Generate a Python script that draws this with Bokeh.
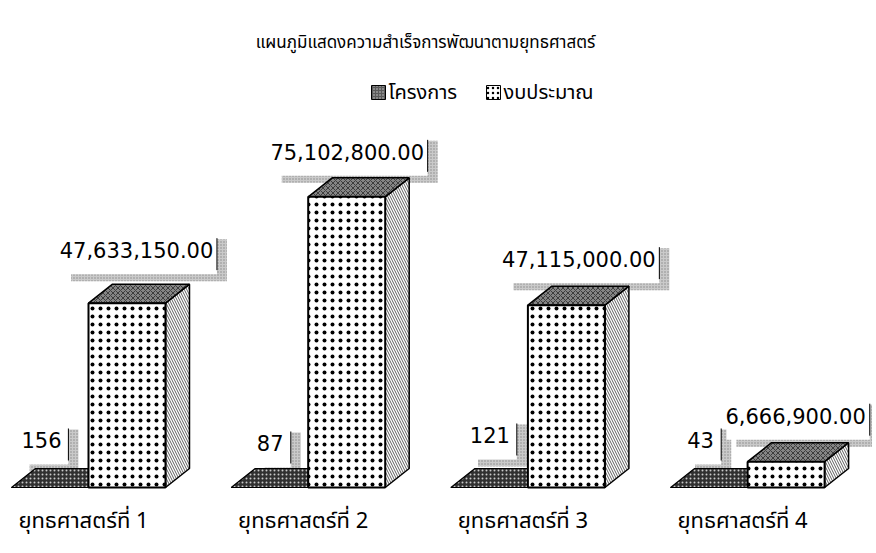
from bokeh.plotting import figure
from bokeh.models import Range1d
from bokeh.core.properties import value
from bokeh.embed import file_html
from bokeh.resources import INLINE

# ---------------- data ----------------
title_text = "แผนภูมิแสดงความสำเร็จการพัฒนาตามยุทธศาสตร์"
categories = ["ยุทธศาสตร์ที่ 1", "ยุทธศาสตร์ที่ 2", "ยุทธศาสตร์ที่ 3", "ยุทธศาสตร์ที่ 4"]
series_names = ["โครงการ", "งบประมาณ"]
projects = [156, 87, 121, 43]
budget = [47633150.00, 75102800.00, 47115000.00, 6666900.00]

# ---------------- layout (pixels) ----------------
W, H = 872, 548
OFF = 0
X0, STEP = 88.0, 219.7          # px of first group centre, group spacing
BASE, PX_PER_UNIT = 487.0, 3.87e-6
x_start = (OFF - X0) / STEP
x_end = (OFF + W - X0) / STEP
y_top = (BASE - OFF) / PX_PER_UNIT
y_bot = -(OFF + H - BASE) / PX_PER_UNIT
UX = 1.0 / STEP
UY = 1.0 / PX_PER_UNIT


def X(px):
    return x_start + (px - OFF) / W * (x_end - x_start)


def Y(py):
    return y_top - (py - OFF) / H * (y_top - y_bot)


BAR_W = 77 * UX
DX = 24 * UX
DY = 19 * UY

# label nudges in px relative to (group centre, bar top)
budget_lbl_dx = [48, 39, 51, 48]
budget_lbl_dy = [-53, -45, -46, -46]
proj_lbl_dx = [-47, -38, -38, -47]
proj_lbl_dy = [-47, -44, -52, -47]

NUM_SIZE = 21
NUM_FONT = value("DejaVu Sans")
THAI_FONT = value("Tahoma, 'Noto Sans Thai', 'Noto Sans Thai UI', 'Noto Sans', 'DejaVu Sans', sans-serif")

p = figure(width=W, height=H, output_backend="svg", toolbar_location=None,
           x_range=Range1d(x_start, x_end), y_range=Range1d(y_bot, y_top),
           min_border=0, outline_line_color=None)
p.axis.visible = False
p.grid.visible = False
p.background_fill_color = "white"
p.border_fill_color = "white"


def fmt(v):
    return f"{v:,.2f}"


def text_w(s):
    w = 0.0
    for c in s:
        w += 0.30 if c in ",." else 0.60
    return w * NUM_SIZE


# ---------- label geometry ----------
labels = []
for i, v in enumerate(budget):
    s = fmt(v)
    cx = X0 + i * STEP + budget_lbl_dx[i]
    cy = BASE - v * PX_PER_UNIT + budget_lbl_dy[i]
    labels.append((s, cx, cy))
for i, v in enumerate(projects):
    s = f"{v}"
    cx = X0 + i * STEP + proj_lbl_dx[i]
    cy = BASE - v * PX_PER_UNIT + proj_lbl_dy[i]
    labels.append((s, cx, cy))

PAD_L, PAD_R = 3, 8
SH_X, SH_Y, BOX_H, BOX_DY = 10, 7, 42, 3
box_l = [c[1] - text_w(c[0]) / 2 - PAD_L for c in labels]
box_r = [c[1] + text_w(c[0]) / 2 + PAD_R for c in labels]
box_cx = [(a + b) / 2 for a, b in zip(box_l, box_r)]
box_w = [b - a for a, b in zip(box_l, box_r)]

# shadows
p.rect(x=[X(c + SH_X) for c in box_cx], y=[Y(c[2] + BOX_DY + SH_Y) for c in labels],
       width=box_w, height=BOX_H, width_units="screen", height_units="screen",
       fill_color="#cacaca", line_color=None,
       hatch_pattern="dot", hatch_color="#8a8a8a", hatch_scale=3, hatch_weight=1)

# ---------- project bars (flat, drawn first) ----------
for i, v in enumerate(projects):
    L = i - BAR_W
    R = i
    p.quad(left=[L], right=[R], bottom=[0], top=[v], fill_color="#2e2e2e", line_color="black")
    p.patches(xs=[[L, R, R + DX, L + DX]], ys=[[v, v, v + DY, v + DY]],
              fill_color="#303030", line_color="black", line_width=1.2,
              hatch_pattern="dot", hatch_color="#c8c8c8", hatch_scale=4, hatch_weight=1)

# ---------- budget bars ----------
for i, v in enumerate(budget):
    L = i
    R = i + BAR_W
    # right side
    p.patches(xs=[[R, R + DX, R + DX, R]], ys=[[0, DY, v + DY, v]],
              fill_color="white", line_color="black", line_width=1.5,
              hatch_pattern="left_diagonal_line", hatch_color="#333333",
              hatch_scale=5, hatch_weight=0.8)
    # top
    p.patches(xs=[[L, R, R + DX, L + DX]], ys=[[v, v, v + DY, v + DY]],
              fill_color="#858585", line_color="black", line_width=1.5,
              hatch_pattern="diagonal_cross", hatch_color="#1e1e1e",
              hatch_scale=5, hatch_weight=0.7)
    # front
    p.quad(left=[L], right=[R], bottom=[0], top=[v],
           fill_color="white", line_color="black", line_width=2,
           hatch_pattern="dot", hatch_color="black", hatch_scale=8, hatch_weight=1.5)

# ---------- label boxes & texts ----------
p.rect(x=[X(c) for c in box_cx], y=[Y(c[2] + BOX_DY) for c in labels],
       width=box_w, height=BOX_H, width_units="screen", height_units="screen",
       fill_color="white", line_color=None)
p.segment(x0=[X(r) for r in box_r], y0=[Y(c[2] - 12) for c in labels],
          x1=[X(r) for r in box_r], y1=[Y(c[2] + 20) for c in labels],
          line_color="black", line_width=1)
p.text(x=[X(c[1]) for c in labels], y=[Y(c[2]) for c in labels], text=[c[0] for c in labels],
       text_font=NUM_FONT, text_font_size=f"{NUM_SIZE}px",
       text_align="center", text_baseline="middle", text_color="black")

# ---------- category labels ----------
p.text(x=[i - 5 * UX for i in range(len(categories))], y=[Y(521)] * len(categories),
       text=categories, text_font=THAI_FONT, text_font_size="22px",
       text_align="center", text_baseline="middle", text_color="black")

# ---------- title ----------
p.text(x=[X(425)], y=[Y(42)], text=[title_text], text_font=THAI_FONT,
       text_font_size="17px", text_align="center", text_baseline="middle", text_color="black")

# ---------- legend ----------
p.rect(x=[X(378)], y=[Y(92)], width=14, height=14, width_units="screen", height_units="screen",
       fill_color="#5a5a5a", line_color="black", hatch_pattern="dot", hatch_color="#cfcfcf",
       hatch_scale=3, hatch_weight=1)
p.rect(x=[X(493)], y=[Y(92)], width=14, height=14, width_units="screen", height_units="screen",
       fill_color="white", line_color="black", hatch_pattern="dot", hatch_color="black",
       hatch_scale=5, hatch_weight=1)
p.text(x=[X(388), X(503)], y=[Y(92), Y(92)], text=series_names, text_font=THAI_FONT,
       text_font_size="20px", text_align="left", text_baseline="middle", text_color="black")

open("out.html", "w").write(file_html(p, INLINE))
